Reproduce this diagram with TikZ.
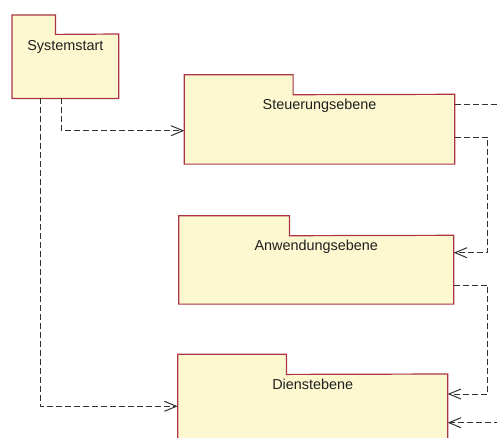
\documentclass[tikz,border=0pt]{standalone}
\usepackage{fontspec}
\setmainfont{Liberation Sans}
\usetikzlibrary{arrows.meta,calc}

\definecolor{pkgfill}{HTML}{FDF8CF}
\definecolor{pkgedge}{HTML}{AC3444}
\definecolor{depline}{HTML}{333333}

\tikzset{
  pkgpart/.style={rectangle, fill=pkgfill, draw=none, inner sep=0pt, anchor=north west},
  pkgline/.style={draw=pkgedge, line width=1.2pt, line join=miter},
  pkgtext/.style={anchor=base, inner sep=0pt, font=\fontsize{14.4}{16}\selectfont, text=black!88},
  depdash/.style={draw=depline, line width=1pt, dash pattern=on 6pt off 3pt},
  dep/.style={depdash, -{Straight Barb[length=12pt,width=10pt,line width=1pt]}},
}

\begin{document}
\begin{tikzpicture}[x=1pt, y=-1pt]
  \useasboundingbox (0,0) rectangle (497,437);
  \clip (0,0) rectangle (497,437);

  % Systemstart
  \node[pkgpart, minimum width=43pt, minimum height=19pt] (systab) at (12,15) {};
  \node[pkgpart, minimum width=106.3pt, minimum height=64pt] (sys) at (12,34) {};
  \draw[pkgline] (sys.south west) |- (systab.north east) -- (systab.south east)
    -- (sys.north east) -- (sys.south east) -- cycle;
  \node[pkgtext] (systxt) at ([yshift=-16pt]sys.north) {Systemstart};

  % Steuerungsebene
  \node[pkgpart, minimum width=108.4pt, minimum height=19.6pt] (steutab) at (184.3,74.7) {};
  \node[pkgpart, minimum width=270pt, minimum height=69.4pt] (steu) at (184.3,94.3) {};
  \draw[pkgline] (steu.south west) |- (steutab.north east) -- (steutab.south east)
    -- (steu.north east) -- (steu.south east) -- cycle;
  \node[pkgtext] (steutxt) at ([yshift=-15pt]steu.north) {Steuerungsebene};

  % Anwendungsebene
  \node[pkgpart, minimum width=110.3pt, minimum height=19.6pt] (anwtab) at (178.7,215.7) {};
  \node[pkgpart, minimum width=274.6pt, minimum height=68.4pt] (anw) at (178.7,235.3) {};
  \draw[pkgline] (anw.south west) |- (anwtab.north east) -- (anwtab.south east)
    -- (anw.north east) -- (anw.south east) -- cycle;
  \node[pkgtext] (anwtxt) at ([yshift=-15.4pt]anw.north) {Anwendungsebene};

  % Dienstebene
  \node[pkgpart, minimum width=108.3pt, minimum height=19.7pt] (dientab) at (177.7,354.3) {};
  \node[pkgpart, minimum width=269.6pt, minimum height=70pt] (dien) at (177.7,374) {};
  \draw[pkgline] (dien.south west) |- (dientab.north east) -- (dientab.south east)
    -- (dien.north east) -- (dien.south east) -- cycle;
  \node[pkgtext] (dientxt) at ([yshift=-15.7pt]dien.north) {Dienstebene};

  % free ends at the right margin
  \coordinate (outR) at (500,104.3);
  \coordinate (inR) at (500,422.7);

  % dependencies
  \draw[dep] ([xshift=49.3pt]sys.south west) |- ([yshift=-36.4pt]steu.north west);
  \draw[dep] ([xshift=28pt]sys.south west) |- ([yshift=-32.3pt]dien.north west);
  \draw[depdash] (outR -| steu.east) -- (outR);
  \draw[dep] ([yshift=-43pt]steu.north east) -- ++(33pt,0) |- ([yshift=-17.4pt]anw.north east);
  \draw[dep] ([yshift=-49.7pt]anw.north east) -- ++(34pt,0) |- ([yshift=-20pt]dien.north east);
  \draw[dep] (inR) -- (inR -| dien.east);
\end{tikzpicture}
\end{document}
